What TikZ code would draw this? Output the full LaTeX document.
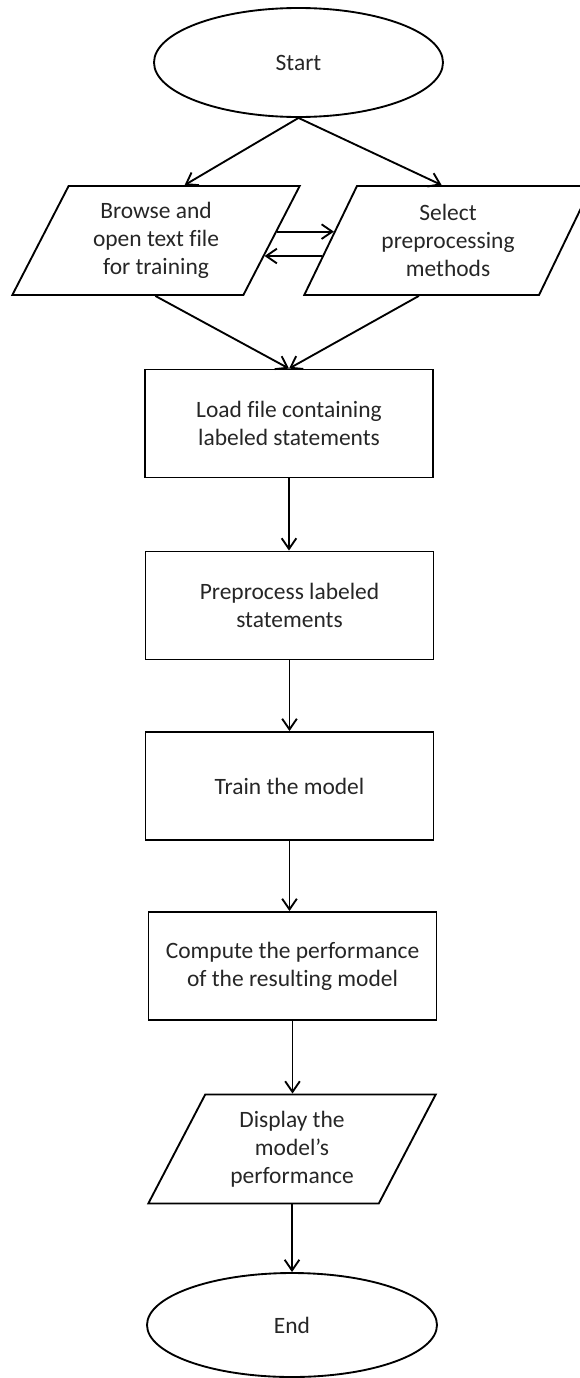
\documentclass[tikz,border=0pt]{standalone}
\usepackage{fontspec}
\setmainfont{Carlito}[Ligatures=NoCommon]
\usetikzlibrary{shapes.geometric,arrows.meta,calc}
\begin{document}
\begin{tikzpicture}[x=0.75pt,y=-0.75pt,
  every node/.style={font=\fontsize{17.6pt}{21pt}\selectfont, text=black!85, align=center, inner sep=0pt, line width=1.4pt},
  terminal/.style={draw, ellipse, minimum width=216.75pt, minimum height=81.75pt},
  procbox/.style={draw, rectangle, minimum width=216pt, minimum height=81pt},
  iobox/.style={draw, trapezium, trapezium left angle=62, trapezium right angle=118,
    trapezium stretches=true, minimum width=216pt, minimum height=81.75pt},
  flow/.style={-{Straight Barb[length=8pt,width=11pt]}, line width=1.4pt}
]
\useasboundingbox (0,0) rectangle (580,1378);
\clip (0,0) rectangle (580,1378);

% nodes
\node[terminal] (start) at (298.5,62.5) {Start};
\node[iobox] (browse) at (156,240.5) {Browse and\\open text file\\for training};
\node[iobox] (select) at (448,240.5) {Select\\preprocessing\\methods};
\node[procbox] (load) at (289,423.5) {Load file containing\\labeled statements};
\node[procbox] (prep) at (289.5,605.5) {Preprocess labeled\\statements};
\node[procbox] (train) at (289.5,786) {Train the model};
\node[procbox] (comp) at (292.5,966) {Compute the performance\\of the resulting model};
\node[iobox] (disp) at (292,1149) {Display the\\model’s\\performance};
\node[terminal, minimum width=217.5pt, minimum height=78pt] (end) at (292,1325) {End};

% connectors
\draw[flow] (start.south) -- ($(browse.top left corner)!0.5!(browse.top right corner)$);
\draw[flow] (start.south) -- ($(select.top left corner)!0.36!(select.top right corner)$);
\draw[flow] ($(browse.bottom right corner)!0.58!(browse.top right corner)$)
  -- ($(select.bottom left corner)!0.58!(select.top left corner)$);
\draw[flow] ($(select.bottom left corner)!0.36!(select.top left corner)$)
  -- ($(browse.bottom right corner)!0.36!(browse.top right corner)$);
\draw[flow] ($(browse.bottom left corner)!0.62!(browse.bottom right corner)$) -- (load.north);
\draw[flow] ($(select.bottom left corner)!0.49!(select.bottom right corner)$) -- (load.north);
\draw[flow] (load.south) -- (load.south |- prep.north);
\draw[flow] (prep.south) -- (prep.south |- train.north);
\draw[flow] (train.south) -- (train.south |- comp.north);
\draw[flow] (comp.south) -- (comp.south |- disp.north);
\draw[flow] (disp.south) -- (disp.south |- end.north);
\end{tikzpicture}
\end{document}
